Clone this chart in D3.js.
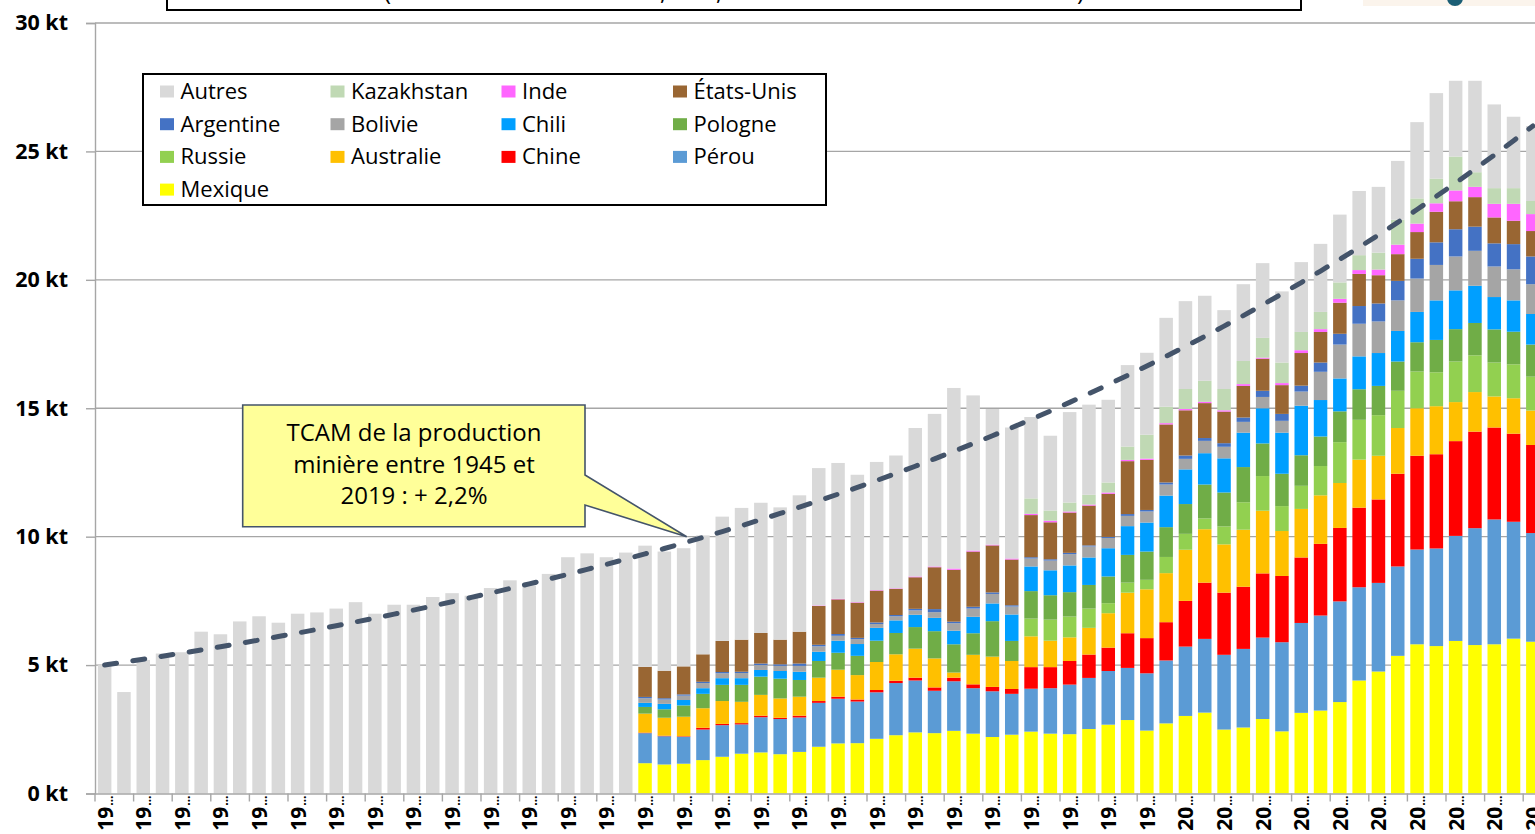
<!DOCTYPE html>
<html>
<head>
<meta charset="utf-8">
<script src="https://cdn.jsdelivr.net/npm/d3@7"></script>
<style>
  html, body { margin: 0; padding: 0; background: #fff; }
  svg { display: block; font-family: "Open Sans", sans-serif; }
</style>
</head>
<body>
<svg id="chart"></svg>
<script>
// années 1945 -> 2019
const years = d3.range(1945, 2020);

const total = [
  5.0, 3.95, 5.2, 5.45, 5.5, 6.3, 6.2, 6.7, 6.9, 6.65,
  7.0, 7.05, 7.2, 7.45, 7.0, 7.35, 7.35, 7.65, 7.8, 7.7,
  8.0, 8.3, 8.1, 8.55, 9.2, 9.35, 9.2, 9.38,
  9.65, 9.42, 9.55, 10.05, 10.78, 11.12, 11.32, 11.14, 11.61, 12.67,
  12.87, 12.41, 12.91, 13.16, 14.23, 14.78, 15.79, 15.5, 14.97, 14.25,
  14.66, 13.93, 14.85, 15.14, 15.33, 16.68, 17.16, 18.52, 19.17, 19.38,
  18.82, 19.83, 20.65, 19.55, 20.69, 21.4, 22.54, 23.46, 23.62, 24.63,
  26.14, 27.27, 27.75, 27.75, 26.83, 26.35, 25.99
];

// détail par pays à partir de 1973
const firstDetailYear = 1973;
const mexique = [1.18, 1.13, 1.16, 1.30, 1.43, 1.55, 1.60, 1.53, 1.62, 1.82, 1.95, 1.96, 2.13, 2.27, 2.38, 2.35, 2.44, 2.33, 2.20, 2.29, 2.41, 2.33, 2.31, 2.51, 2.68, 2.86, 2.45, 2.73, 3.02, 3.15, 2.49, 2.57, 2.90, 2.42, 3.14, 3.23, 3.56, 4.40, 4.75, 5.36, 5.81, 5.74, 5.94, 5.78, 5.81, 6.03, 5.91];
const perou = [1.17, 1.10, 1.05, 1.19, 1.23, 1.14, 1.37, 1.37, 1.34, 1.71, 1.74, 1.62, 1.81, 2.03, 2.02, 1.65, 1.93, 1.77, 1.78, 1.59, 1.67, 1.77, 1.93, 1.99, 2.09, 2.03, 2.23, 2.45, 2.70, 2.87, 2.91, 3.06, 3.17, 3.47, 3.50, 3.70, 3.92, 3.63, 3.45, 3.48, 3.69, 3.80, 4.09, 4.55, 4.86, 4.55, 4.23];
const chine = [0.02, 0.02, 0.02, 0.07, 0.05, 0.05, 0.06, 0.05, 0.07, 0.07, 0.08, 0.08, 0.09, 0.09, 0.11, 0.13, 0.14, 0.15, 0.17, 0.19, 0.84, 0.82, 0.92, 0.91, 0.91, 1.35, 1.37, 1.49, 1.78, 2.19, 2.42, 2.42, 2.50, 2.58, 2.55, 2.79, 2.86, 3.10, 3.25, 3.61, 3.65, 3.67, 3.69, 3.76, 3.58, 3.43, 3.43];
const australie = [0.74, 0.70, 0.76, 0.76, 0.89, 0.83, 0.81, 0.75, 0.74, 0.91, 1.05, 0.95, 1.09, 1.03, 1.13, 1.13, 0.20, 1.15, 1.18, 1.09, 1.20, 1.03, 0.92, 1.04, 1.34, 1.58, 1.90, 1.91, 1.99, 2.08, 1.88, 2.22, 2.44, 1.75, 1.89, 1.89, 1.75, 1.87, 1.70, 1.78, 1.85, 1.87, 1.52, 1.54, 1.21, 1.38, 1.34];
const russie = [0, 0, 0, 0, 0, 0, 0, 0, 0, 0, 0, 0, 0, 0, 0, 0, 0, 0, 0, 0, 0.69, 0.82, 0.81, 0.75, 0.39, 0.39, 0.37, 0.63, 0.62, 0.42, 0.70, 1.07, 1.35, 0.97, 0.90, 1.14, 1.59, 1.55, 1.58, 1.45, 1.43, 1.32, 1.58, 1.43, 1.32, 1.32, 1.32];
const pologne = [0.26, 0.33, 0.44, 0.56, 0.63, 0.66, 0.71, 0.77, 0.65, 0.65, 0.66, 0.75, 0.83, 0.83, 0.84, 1.06, 1.10, 0.84, 1.38, 0.78, 1.07, 0.95, 0.95, 0.92, 1.04, 1.08, 1.10, 1.16, 1.16, 1.32, 1.32, 1.37, 1.27, 1.26, 1.19, 1.15, 1.20, 1.19, 1.14, 1.14, 1.14, 1.26, 1.26, 1.26, 1.29, 1.27, 1.25];
const chili = [0.16, 0.21, 0.21, 0.22, 0.26, 0.26, 0.26, 0.30, 0.32, 0.36, 0.47, 0.46, 0.50, 0.49, 0.48, 0.52, 0.53, 0.64, 0.69, 1.03, 0.96, 0.97, 1.04, 1.07, 1.10, 1.12, 1.13, 1.23, 1.35, 1.22, 1.33, 1.34, 1.37, 1.60, 1.93, 1.42, 1.28, 1.28, 1.28, 1.19, 1.18, 1.54, 1.51, 1.45, 1.26, 1.22, 1.19];
const bolivie = [0.18, 0.17, 0.17, 0.20, 0.19, 0.20, 0.19, 0.20, 0.23, 0.21, 0.19, 0.19, 0.15, 0.16, 0.17, 0.22, 0.29, 0.32, 0.37, 0.31, 0.31, 0.38, 0.44, 0.43, 0.40, 0.40, 0.43, 0.43, 0.41, 0.48, 0.45, 0.42, 0.44, 0.46, 0.55, 1.10, 1.32, 1.27, 1.23, 1.19, 1.30, 1.38, 1.32, 1.36, 1.19, 1.21, 1.16];
const argentine = [0.05, 0.05, 0.05, 0.05, 0.05, 0.05, 0.06, 0.06, 0.09, 0.06, 0.07, 0.05, 0.06, 0.05, 0.06, 0.12, 0.06, 0.07, 0.06, 0.05, 0.05, 0.05, 0.05, 0.04, 0.04, 0.07, 0.06, 0.08, 0.13, 0.11, 0.14, 0.17, 0.24, 0.27, 0.23, 0.36, 0.42, 0.69, 0.70, 0.76, 0.77, 0.88, 1.06, 0.94, 0.90, 0.98, 1.08];
const etatsUnis = [1.17, 1.07, 1.09, 1.07, 1.21, 1.25, 1.19, 0.96, 1.24, 1.51, 1.35, 1.37, 1.24, 1.02, 1.23, 1.63, 2.02, 2.15, 1.83, 1.78, 1.64, 1.44, 1.57, 1.55, 1.68, 2.06, 1.95, 2.26, 1.76, 1.36, 1.23, 1.23, 1.25, 1.12, 1.27, 1.19, 1.21, 1.25, 1.10, 1.04, 1.04, 1.19, 1.09, 1.15, 1.01, 0.91, 0.99];
const inde = [0, 0, 0, 0, 0, 0, 0, 0, 0, 0.02, 0.02, 0.02, 0.02, 0.02, 0.03, 0.03, 0.05, 0.04, 0.03, 0.04, 0.05, 0.06, 0.04, 0.04, 0.05, 0.05, 0.05, 0.05, 0.05, 0.05, 0.05, 0.07, 0.04, 0.08, 0.11, 0.11, 0.15, 0.15, 0.22, 0.37, 0.33, 0.33, 0.42, 0.40, 0.53, 0.66, 0.66];
const kazakhstan = [0, 0, 0, 0, 0, 0, 0, 0, 0, 0, 0, 0, 0, 0, 0, 0, 0, 0, 0, 0, 0.60, 0.40, 0.35, 0.38, 0.39, 0.52, 0.93, 0.64, 0.78, 0.82, 0.83, 0.90, 0.77, 0.80, 0.71, 0.67, 0.64, 0.58, 0.66, 0.97, 0.98, 0.96, 1.32, 0.57, 0.61, 0.61, 0.51];

// ordre d'empilement (du bas vers le haut)
const countries = ["Mexique", "Pérou", "Chine", "Australie", "Russie", "Pologne", "Chili", "Bolivie", "Argentine", "États-Unis", "Inde", "Kazakhstan", "Autres"];
const countryValues = [mexique, perou, chine, australie, russie, pologne, chili, bolivie, argentine, etatsUnis, inde, kazakhstan];
const colors = ["#FFFF00", "#5B9BD5", "#FF0000", "#FFC000", "#92D050", "#70AD47", "#009FFF", "#A5A5A5", "#4472C4", "#996633", "#FF66FF", "#C0D9B4", "#D9D9D9"];

// ordre de la légende (4 colonnes)
const legendOrder = ["Autres", "Kazakhstan", "Inde", "États-Unis", "Argentine", "Bolivie", "Chili", "Pologne", "Russie", "Australie", "Chine", "Pérou", "Mexique"];

const yTicks = [0, 5, 10, 15, 20, 25, 30];

const W = 1535, H = 834;
const svg = d3.select("#chart").attr("width", W).attr("height", H);

// tableau pour d3.stack
const rows = years.map(function (yr, i) {
  let row = { year: yr }, sum = 0;
  countries.slice(0, 12).forEach(function (c, k) {
    let v = yr >= firstDetailYear ? countryValues[k][yr - firstDetailYear] : 0;
    row[c] = v;
    sum += v;
  });
  row["Autres"] = total[i] - sum;
  return row;
});

const x0 = 95, step = 19.3;
const x = d3.scaleBand()
  .domain(years)
  .range([x0, x0 + step * years.length])
  .paddingInner(0.3)
  .paddingOuter(0.15);

const y = d3.scaleLinear().domain([0, 30]).range([793.5, 23]);
const color = d3.scaleOrdinal().domain(countries).range(colors);

const grey = "#A6A6A6";

// quadrillage
svg.append("g")
  .selectAll("line")
  .data(yTicks.filter(d => d > 0))
  .enter().append("line")
  .attr("x1", x0).attr("x2", W)
  .attr("y1", d => y(d)).attr("y2", d => y(d))
  .attr("stroke", grey).attr("stroke-width", 1.4);

// axe Y
const yAxis = svg.append("g")
  .attr("transform", "translate(" + x0 + ",0)")
  .call(d3.axisLeft(y).tickValues(yTicks).tickSize(9).tickPadding(18).tickFormat(d => d + " kt"));
yAxis.select(".domain").attr("stroke", grey).attr("stroke-width", 1.4);
yAxis.selectAll(".tick line").attr("stroke", grey).attr("stroke-width", 1.4);
yAxis.selectAll("text")
  .attr("fill", "#000")
  .style("font-family", "'Open Sans', sans-serif")
  .style("font-size", "21.5px")
  .style("font-weight", "bold");

// barres empilées
const stack = d3.stack().keys(countries);
const layers = stack(rows);

svg.append("g")
  .selectAll("g")
  .data(layers)
  .enter().append("g")
  .attr("fill", d => color(d.key))
  .selectAll("rect")
  .data(d => d)
  .enter().append("rect")
  .attr("x", d => x(d.data.year))
  .attr("width", x.bandwidth())
  .attr("y", d => y(d[1]))
  .attr("height", d => Math.max(0, y(d[0]) - y(d[1])));

// axe X : libellés tronqués "19…" / "20…"
const xAxis = svg.append("g")
  .attr("transform", "translate(0," + y(0) + ")")
  .call(d3.axisBottom(x)
    .tickValues(years.filter((d, i) => i % 2 === 0))
    .tickSize(0)
    .tickFormat(d => String(d).slice(0, 2)));
xAxis.select(".domain").attr("stroke", grey).attr("stroke-width", 1.4);
xAxis.selectAll("text")
  .attr("fill", "#000")
  .attr("transform", "translate(8,2) rotate(-90)")
  .attr("text-anchor", "end")
  .attr("x", 0).attr("y", 0).attr("dy", 0)
  .style("font-family", "'Open Sans', sans-serif")
  .style("font-size", "21px")
  .style("font-weight", "bold")
  .append("tspan")
  .style("font-size", "12px")
  .attr("dx", 1)
  .text("…");

// petites graduations toutes les deux années
svg.append("g")
  .selectAll("line")
  .data(years.filter((d, i) => i % 2 === 0))
  .enter().append("line")
  .attr("x1", d => x(d) - x.step() * x.paddingInner() / 2)
  .attr("x2", d => x(d) - x.step() * x.paddingInner() / 2)
  .attr("y1", y(0)).attr("y2", y(0) + 8)
  .attr("stroke", grey).attr("stroke-width", 1.4);

// tendance TCAM (du total 1945 au total 2019)
const n = total.length - 1;
const rate = Math.pow(total[n] / total[0], 1 / n);
const line = d3.line()
  .x((d, i) => x(years[i]) + x.bandwidth() / 2)
  .y((d, i) => y(total[0] * Math.pow(rate, i)));

svg.append("path")
  .datum(years)
  .attr("d", line)
  .attr("fill", "none")
  .attr("stroke", "#44546A")
  .attr("stroke-width", 5)
  .attr("stroke-linecap", "round")
  .attr("stroke-dasharray", "12,16.5");

// bulle d'annotation
const call = svg.append("g");
call.append("path")
  .attr("d", "M242.7,405 L585,405 L585,475 L686.7,536.7 L585,505 L585,526.7 L242.7,526.7 Z")
  .attr("fill", "#FFFF99")
  .attr("stroke", "#44546A")
  .attr("stroke-width", 1.6);
call.selectAll("text")
  .data(["TCAM de la production", "minière entre 1945 et", "2019 : + 2,2%"])
  .enter().append("text")
  .attr("x", 414)
  .attr("y", (d, i) => 441 + i * 31.5)
  .attr("text-anchor", "middle")
  .style("font-size", "24px")
  .attr("fill", "#000")
  .text(d => d);

// légende
const leg = svg.append("g");
leg.append("rect")
  .attr("x", 143).attr("y", 74).attr("width", 683).attr("height", 131)
  .attr("fill", "#fff").attr("stroke", "#000").attr("stroke-width", 2);
const colX = [160, 330.5, 501.5, 673];
const legItem = leg.selectAll("g.item")
  .data(legendOrder)
  .enter().append("g")
  .attr("class", "item")
  .attr("transform", (d, i) => "translate(" + colX[i % 4] + "," + (91.5 + Math.floor(i / 4) * 32.7) + ")");
legItem.append("rect")
  .attr("x", 0).attr("y", -6).attr("width", 14).attr("height", 12)
  .attr("fill", d => color(d));
legItem.append("text")
  .attr("x", 20.5).attr("y", 7.5)
  .style("font-size", "22px")
  .attr("fill", "#000")
  .text(d => d);

// cadre du titre (coupé en haut de l'image, seuls les bas de glyphes dépassent)
svg.append("rect")
  .attr("x", 167).attr("y", -40).attr("width", 1134).attr("height", 50)
  .attr("fill", "#fff").attr("stroke", "#000").attr("stroke-width", 2);
svg.append("text")
  .attr("x", 380).attr("y", -0.5)
  .attr("text-anchor", "end")
  .style("font-size", "24px")
  .attr("fill", "#000")
  .text("Métal blanc");
svg.append("text")
  .attr("x", 384).attr("y", -0.5)
  .attr("textLength", 700)
  .attr("lengthAdjust", "spacing")
  .style("font-size", "24px")
  .attr("fill", "#000")
  .text("(extraction minière mondiale, en kt, de 1945 à 2019 selon USGS et BRGM)");

// logo (coupé)
svg.append("rect").attr("x", 1363).attr("y", 0).attr("width", 172).attr("height", 6).attr("fill", "#FBF4EC");
svg.append("circle").attr("cx", 1455).attr("cy", -2).attr("r", 8).attr("fill", "#1B5E75");
</script>
</body>
</html>
